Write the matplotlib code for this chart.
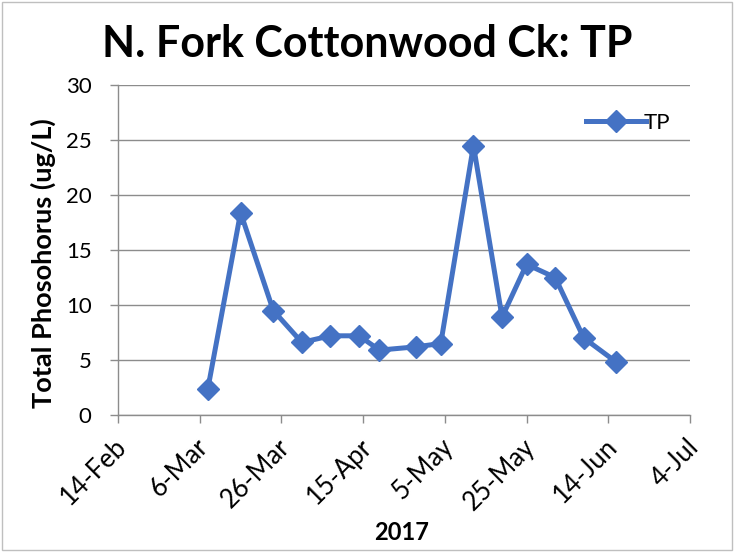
"""
Total phosphorus at N. Fork Cottonwood Ck, spring 2017.
"""
import datetime as dt

import matplotlib
matplotlib.use("Agg")
import matplotlib.pyplot as plt
import matplotlib.dates as mdates
from matplotlib.patches import Rectangle
from matplotlib.transforms import ScaledTranslation

# Sampling dates and total phosphorus (ug/L)
sample_dates = [
    "2017-03-08", "2017-03-16", "2017-03-24", "2017-03-31", "2017-04-07",
    "2017-04-14", "2017-04-19", "2017-04-28", "2017-05-04", "2017-05-12",
    "2017-05-19", "2017-05-25", "2017-06-01", "2017-06-08", "2017-06-16",
]
tp_values = [2.4, 18.4, 9.5, 6.6, 7.2, 7.2, 5.9, 6.2, 6.5, 24.5, 8.9, 13.7, 12.5, 7.0, 4.8]

x_start = dt.datetime(2017, 2, 14)
x_end = dt.datetime(2017, 7, 4)
y_ticks = [0, 5, 10, 15, 20, 25, 30]

BLUE = "#4472C4"
GRID = "#8c8c8c"
FONT = ["Lato", "DejaVu Sans"]

dates = [dt.datetime.strptime(d, "%Y-%m-%d") for d in sample_dates]

fig = plt.figure(figsize=(7.34, 5.52), dpi=100)
ax = fig.add_axes([118 / 734, 1 - 415 / 552, (690 - 118) / 734, (415 - 85) / 552])

ax.plot(dates, tp_values, color=BLUE, lw=3.6, marker="D", markersize=11,
        markeredgecolor=BLUE, label="TP", solid_joinstyle="round")

ax.set_xlim(x_start, x_end)
ax.set_ylim(0, 30)
ax.set_yticks(y_ticks)
ax.set_xticks([x_start + dt.timedelta(days=20 * i) for i in range(8)])
ax.xaxis.set_major_formatter(mdates.DateFormatter("%-d-%b"))

ax.grid(axis="y", color=GRID, lw=1.0)
ax.set_axisbelow(True)
for side in ["top", "right"]:
    ax.spines[side].set_visible(False)
for side in ["left", "bottom"]:
    ax.spines[side].set_color(GRID)
    ax.spines[side].set_linewidth(1.0)

ax.tick_params(axis="both", color=GRID, length=6, width=1.0)
ax.tick_params(axis="y", pad=13, labelsize=16)
ax.tick_params(axis="x", pad=14, labelsize=18.5)

# rotated date labels, nudged a little right of their ticks
shift = ScaledTranslation(5 / 100, 0, fig.dpi_scale_trans)
for lbl in ax.get_yticklabels():
    lbl.set_family(FONT)
for lbl in ax.get_xticklabels():
    lbl.set_family(FONT)
    lbl.set_rotation(45)
    lbl.set_ha("right")
    lbl.set_va("center")
    lbl.set_rotation_mode("anchor")
    lbl.set_transform(lbl.get_transform() + shift)

ax.set_ylabel("Total Phosohorus (ug/L)", fontsize=19.5, fontweight="bold", family=FONT)
ax.yaxis.set_label_coords(-0.108, 0.459)
ax.set_xlabel("2017", fontsize=17, fontweight="bold", family=FONT)
ax.xaxis.set_label_coords(0.4965, -0.321)

fig.text(0.5, 0.92, "N. Fork Cottonwood Ck: TP", ha="center", va="center",
         fontsize=31, fontweight="bold", family=FONT)

ax.legend(loc="upper right", bbox_to_anchor=(1.0, 0.977), frameon=False,
          handlelength=2.7, handletextpad=-0.1, prop={"family": FONT, "size": 16})

# light chart border
fig.patches.append(Rectangle((0.003, 0.003), 0.994, 0.994, transform=fig.transFigure,
                             fill=False, edgecolor="#bfbfbf", lw=1.0))

fig.savefig("out.png", dpi=100)
